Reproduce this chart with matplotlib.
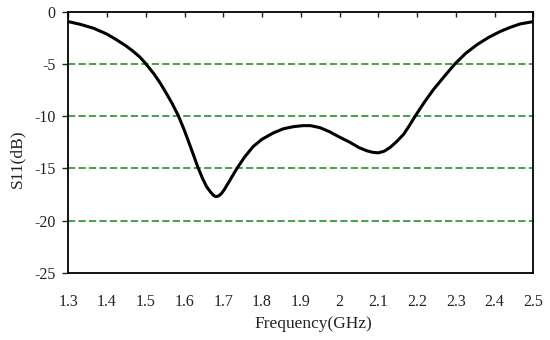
import matplotlib.pyplot as plt

plt.rcParams['font.family'] = ['Liberation Serif', 'DejaVu Serif']
plt.rcParams['axes.unicode_minus'] = False

# S11 response
freq = [1.300, 1.330, 1.365, 1.400, 1.425, 1.450, 1.468, 1.485, 1.500, 1.520,
        1.537, 1.552, 1.567, 1.584, 1.600, 1.618, 1.635, 1.647, 1.657, 1.668,
        1.675, 1.681, 1.688, 1.695, 1.702, 1.715, 1.735, 1.755, 1.777, 1.800,
        1.829, 1.855, 1.881, 1.905, 1.925, 1.950, 1.975, 2.000, 2.027, 2.050,
        2.070, 2.085, 2.100, 2.115, 2.130, 2.148, 2.165, 2.180, 2.195, 2.218,
        2.242, 2.270, 2.298, 2.325, 2.354, 2.385, 2.414, 2.440, 2.466, 2.500]
s11 = [-0.95, -1.20, -1.58, -2.15, -2.70, -3.30, -3.81, -4.35, -4.98, -5.90,
       -6.82, -7.75, -8.72, -9.95, -11.4, -13.2, -14.95, -16.0, -16.75, -17.3,
       -17.58, -17.7, -17.62, -17.4, -17.05, -16.25, -15.0, -13.9, -12.9, -12.2,
       -11.6, -11.2, -11.0, -10.9, -10.9, -11.1, -11.5, -12.0, -12.5, -13.0,
       -13.3, -13.45, -13.5, -13.35, -13.0, -12.4, -11.74, -10.9, -10.0, -8.7,
       -7.46, -6.2, -4.98, -4.0, -3.17, -2.45, -1.90, -1.50, -1.17, -0.95]

x_ticks = [1.3, 1.4, 1.5, 1.6, 1.7, 1.8, 1.9, 2.0, 2.1, 2.2, 2.3, 2.4, 2.5]
x_labels = ["1.3", "1.4", "1.5", "1.6", "1.7", "1.8", "1.9", "2", "2.1", "2.2", "2.3", "2.4", "2.5"]
y_ticks = [0, -5, -10, -15, -20, -25]

fig = plt.figure(figsize=(5.5, 3.4), dpi=100)
ax = fig.add_axes([0.1242, 0.197, 0.8455, 0.7686])

for y in [-5, -10, -15, -20]:
    ax.axhline(y, color="#3a9a3a", linestyle=(0, (4, 1.8)), linewidth=1.3, zorder=1)

ax.plot(freq, s11, color="black", linewidth=2.2, zorder=3,
        solid_joinstyle="round", solid_capstyle="round")

ax.set_xlim(1.3, 2.5)
ax.set_ylim(-25, 0)
ax.set_xticks(x_ticks)
ax.set_xticklabels(x_labels)
ax.set_yticks(y_ticks)
ax.set_yticklabels([str(v) for v in y_ticks])

for sp in ax.spines.values():
    sp.set_linewidth(1.3)

ax.tick_params(axis="x", top=True, bottom=False, direction="in", length=3.8,
               width=1, labelsize=11.5, pad=15, colors="#222222")
ax.tick_params(axis="y", left=True, direction="out", length=4, width=1,
               labelsize=11.5, pad=5, colors="#222222")

ax.set_xlabel("Frequency(GHz)", fontsize=12.5, color="#222222")
ax.xaxis.set_label_coords(0.526, -0.165)
ax.set_ylabel("S11(dB)", fontsize=12.5, color="#222222")
ax.yaxis.set_label_coords(-0.093, 0.438)

fig.savefig("out.png", dpi=100)
